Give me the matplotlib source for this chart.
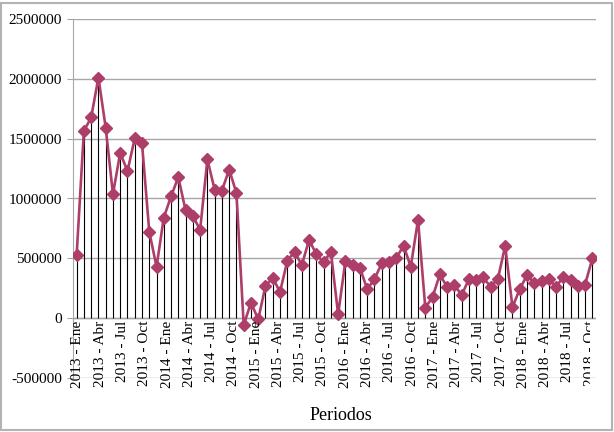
# -*- coding:utf-8 -*-
### Monthly series 2013-2018 with drop lines, Excel style line chart.

import matplotlib
matplotlib.use('Agg')
import matplotlib.pyplot as plt
from matplotlib.patches import Rectangle

### Data
years = ['2013', '2014', '2015', '2016', '2017', '2018']
months = ['Ene', 'Feb', 'Mar', 'Abr', 'May', 'Jun', 'Jul', 'Ago', 'Sep', 'Oct', 'Nov', 'Dic']
values_2013 = [527000, 1565000, 1677000, 2010000, 1593000, 1037000, 1382000, 1228000, 1503000, 1461000, 723000, 429000]
values_2014 = [841000, 1018000, 1178000, 900000, 855000, 737000, 1326000, 1074000, 1066000, 1242000, 1046000, -58000]
values_2015 = [130000, -10000, 270000, 337000, 219000, 478000, 556000, 444000, 654000, 534000, 466000, 556000]
values_2016 = [31000, 478000, 444000, 421000, 242000, 326000, 458000, 466000, 500000, 607000, 430000, 822000]
values_2017 = [87000, 177000, 365000, 261000, 281000, 191000, 326000, 317000, 340000, 261000, 331000, 604000]
values_2018 = [93000, 242000, 360000, 295000, 309000, 331000, 261000, 345000, 323000, 270000, 281000, 500000]
yticks = [-500000, 0, 500000, 1000000, 1500000, 2000000, 2500000]

values = values_2013 + values_2014 + values_2015 + values_2016 + values_2017 + values_2018
periods = [y + ' - ' + m for y in years for m in months]
x = list(range(len(values)))

### Figure
fig = plt.figure(figsize=(6.14, 4.32), dpi=100)
ax = fig.add_axes([73/614, 1-378/432, (596-73)/614, (378-19)/432])

serif = 'Liberation Serif'
linecol = '#ad3d69'

ax.set_ylim(-500000, 2500000)
ax.set_xlim(-0.5, len(values)-0.5)
ax.set_yticks(yticks)
ax.set_yticklabels([str(v) for v in yticks], fontfamily=serif, fontsize=11)
ax.set_xticks([])
ax.grid(axis='y', color='#a6a6a6', linewidth=1.0)
ax.set_axisbelow(True)
ax.tick_params(axis='y', direction='out', length=4, color='#a6a6a6', pad=4)
for s in ['top', 'right', 'bottom']:
    ax.spines[s].set_visible(False)
ax.spines['left'].set_color('#a6a6a6')
ax.axhline(0, color='#a6a6a6', linewidth=1.0, zorder=1)

### drop lines + series
ax.vlines(x, 0, values, colors='black', linewidth=0.8, zorder=2)
ax.plot(x, values, color=linecol, linewidth=1.9, marker='D', markersize=6.5,
        markerfacecolor=linecol, markeredgecolor=linecol, zorder=3)

### category labels every 3 months, sitting under the zero line
clip = Rectangle((0, 0), 590/614, 1, transform=fig.transFigure, visible=False)
fig.add_artist(clip)
for i in range(0, len(periods), 3):
    t = ax.annotate(periods[i], xy=(i*1.022+0.18, 0), xytext=(0, -2), textcoords='offset points',
                    rotation=90, ha='center', va='top', fontfamily=serif, fontsize=11,
                    annotation_clip=False)
    t.set_clip_path(clip)

fig.text(341/614, 1-415/432, 'Periodos', ha='center', va='center', fontfamily=serif, fontsize=13)

### chart border
fig.add_artist(Rectangle((1/614, 2/432), 611/614, 427/432, transform=fig.transFigure,
                         fill=False, edgecolor='#b3b3b3', linewidth=1.5))

plt.savefig('out.png', dpi=100)
